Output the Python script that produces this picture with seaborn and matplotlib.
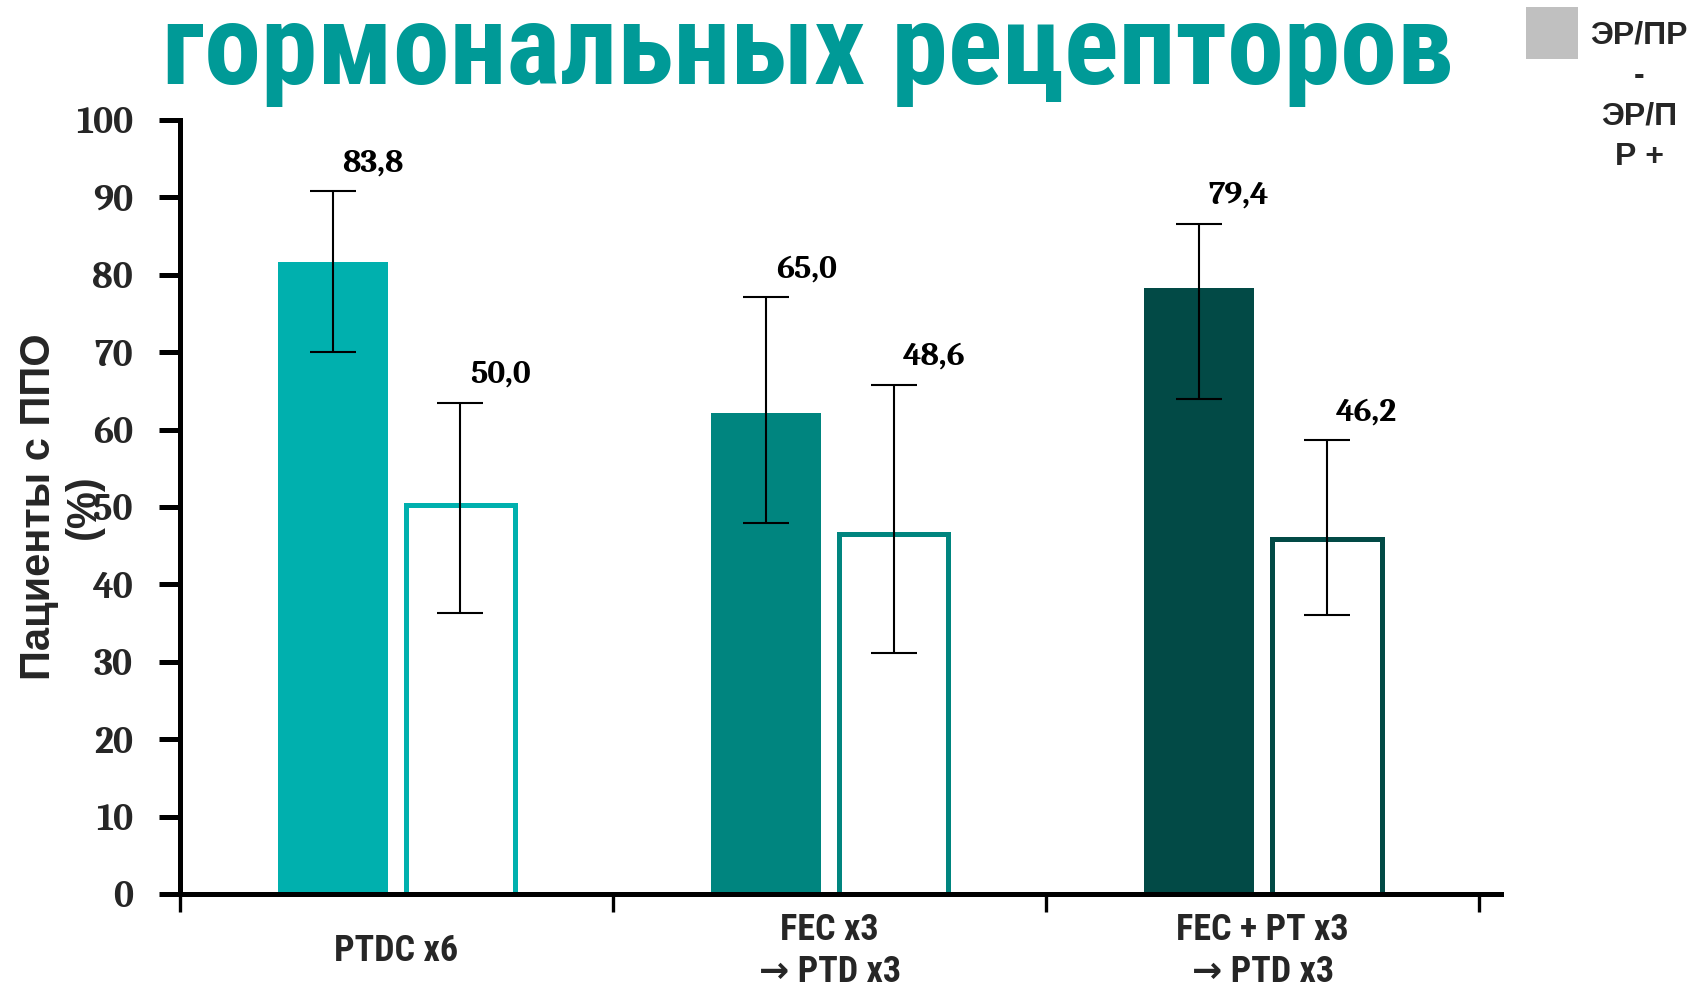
import matplotlib
matplotlib.use("Agg")
import matplotlib.pyplot as plt
import seaborn as sns
import pandas as pd
from matplotlib.patches import Rectangle

# ---------------- data ----------------
categories = ["PTDC x6", "FEC x3\n→ PTD x3", "FEC + PT x3\n→ PTD x3"]
groups = ["ЭР/ПР -", "ЭР/ПР +"]
values_neg = [81.7, 62.2, 78.3]
values_pos = [50.2, 46.5, 45.9]
err_lo_neg = [70.0, 47.9, 63.9]
err_hi_neg = [90.8, 77.1, 86.6]
err_lo_pos = [36.3, 31.1, 36.1]
err_hi_pos = [63.5, 65.8, 58.6]
labels_neg = ["83,8", "65,0", "79,4"]
labels_pos = ["50,0", "48,6", "46,2"]
yticks = list(range(0, 101, 10))
title = "гормональных рецепторов"
ylabel = "Пациенты с ППО\n(%)"
legend_text = "ЭР/ПР\n-\nЭР/П\nР +"
colors = ["#00B0AE", "#00857F", "#024A46"]

# ---------------- build ----------------
df = pd.DataFrame({
    "category": categories * 2,
    "group": [groups[0]] * 3 + [groups[1]] * 3,
    "value": values_neg + values_pos,
})
lows = err_lo_neg + err_lo_pos
highs = err_hi_neg + err_hi_pos
texts = labels_neg + labels_pos

sns.set_style("ticks")
plt.rcParams["font.family"] = ["Liberation Sans", "DejaVu Sans"]
SERIF = ["Caladea", "DejaVu Serif"]
COND = ["Roboto Condensed", "DejaVu Sans"]

W, H = 1699, 988
fig = plt.figure(figsize=(W / 100, H / 100), dpi=100)
ax = fig.add_axes([180 / W, 1 - 894 / H, (1501 - 180) / W, (894 - 120) / H])

sns.barplot(data=df, x="category", y="value", hue="group",
            order=categories, hue_order=groups, width=0.59, gap=0.14,
            errorbar=None, legend=False, ax=ax)

bars = [p for p in ax.patches][:6]
for i, p in enumerate(bars):
    c = colors[i % 3]
    if i < 3:
        p.set_facecolor(c)
        p.set_edgecolor(c)
        p.set_linewidth(0)
    else:
        p.set_facecolor("white")
        p.set_edgecolor(c)
        p.set_linewidth(3.6)
    xc = p.get_x() + p.get_width() / 2
    y = p.get_height()
    ax.errorbar(xc, y, yerr=[[y - lows[i]], [highs[i] - y]], fmt="none",
                ecolor="black", elinewidth=1.5, capsize=16.5, capthick=1.5, zorder=4)
    ax.annotate(texts[i], xy=(xc, highs[i]), xytext=(29, 20),
                textcoords="offset points", ha="center", va="center",
                fontsize=24, fontweight="bold", family=SERIF, color="black")

ax.set_ylim(0, 100)
ax.set_xlim(-0.5, 2.55)
ax.set_yticks(yticks)
ax.set_yticklabels([str(t) for t in yticks], family=SERIF,
                   fontweight="bold", fontsize=27)
ax.tick_params(axis="y", length=15, width=3.6, pad=19, color="black")

ax.set_xticks([-0.5, 0.5, 1.5, 2.5])
ax.set_xticklabels(["", "", "", ""])
ax.tick_params(axis="x", which="major", length=13, width=2.4, color="black")
ax.set_xticks([0, 1, 2], minor=True)
ax.set_xticklabels(categories, minor=True, fontsize=26, fontweight="bold",
                   family=COND, linespacing=1.2)
ax.tick_params(axis="x", which="minor", length=0, pad=41)
for lbl in ax.get_xticklabels(minor=True):
    lbl.set_verticalalignment("center")
ax.set_xlabel("")

ax.set_ylabel(ylabel, fontsize=30, fontweight="bold", linespacing=1.15)
ax.yaxis.set_label_coords(-0.058, 0.5)

sns.despine(ax=ax)
for s in ["left", "bottom"]:
    ax.spines[s].set_linewidth(3.6)
    ax.spines[s].set_color("black")

fig.text(808 / W, 1 - 84 / H, title, ha="center", va="baseline",
         fontsize=82, fontweight="bold", color="#009A97", family=COND)

fig.patches.append(Rectangle((1526 / W, 1 - 59 / H), 52 / W, 52 / H,
                             transform=fig.transFigure, facecolor="#C0C0C0",
                             edgecolor="none"))
fig.text(1639 / W, 1 - 21 / H, legend_text, ha="center", va="top",
         fontsize=23, fontweight="bold", linespacing=1.45, multialignment="center")

fig.savefig("out.png", dpi=100)
